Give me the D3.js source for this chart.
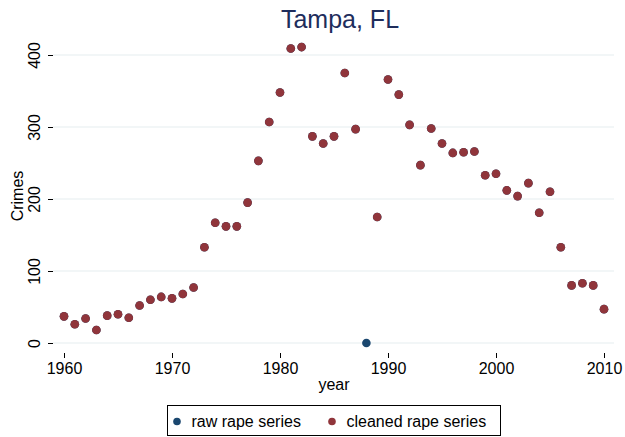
<!DOCTYPE html>
<html>
<head>
<meta charset="utf-8">
<script src="https://cdn.jsdelivr.net/npm/d3@7"></script>
<style>
  html, body { margin: 0; padding: 0; background: #ffffff; }
  svg { display: block; font-family: "Liberation Sans", Arial, Helvetica, sans-serif; }
</style>
</head>
<body>
<svg id="chart" width="625" height="437"></svg>
<script>
// ---- data ----
const years = d3.range(1960, 2011);
const cleanedValues = [
  37, 26, 34, 18, 38, 40, 35, 52, 60, 64,
  62, 68, 77, 133, 167, 162, 162, 195, 253, 307,
  348, 409, 411, 287, 277, 287, 375, 297, null, 175,
  366, 345, 303, 247, 298, 277, 264, 265, 266, 233,
  235, 212, 204, 222, 181, 210, 133, 80, 83, 80,
  47
];
const rawValues = cleanedValues.map((v, i) => years[i] === 1988 ? 0 : v);
const xTicks = [1960, 1970, 1980, 1990, 2000, 2010];
const yTicks = [0, 100, 200, 300, 400];
const seriesNames = ["raw rape series", "cleaned rape series"];
const seriesColors = ["#1a476f", "#90353b"];

// ---- layout ----
const svg = d3.select("#chart");
const x = d3.scaleLinear().domain([1960, 2010]).range([64, 604]);
const y = d3.scaleLinear().domain([0, 400]).range([343, 55]);
const plotLeft = 53, plotRight = 614;

// gridlines
svg.append("g").selectAll("line").data(yTicks).join("line")
  .attr("x1", plotLeft).attr("x2", plotRight)
  .attr("y1", d => y(d)).attr("y2", d => y(d))
  .attr("stroke", "#e6eef0").attr("stroke-width", 1.2);

// y axis
const yAxis = svg.append("g").attr("transform", `translate(${plotLeft},0)`)
  .call(d3.axisLeft(y).tickValues(yTicks).tickSize(5).tickPadding(4));
yAxis.select(".domain").remove();
yAxis.selectAll(".tick line").attr("stroke", "#000");
yAxis.selectAll(".tick text")
  .attr("font-size", 16).attr("fill", "#000")
  .attr("x", null).attr("dy", null)
  .attr("text-anchor", "middle")
  .attr("transform", "translate(-13,0) rotate(-90)")
  .attr("y", 0);

// x axis
const xAxis = svg.append("g").attr("transform", `translate(0,353)`)
  .call(d3.axisBottom(x).tickValues(xTicks).tickFormat(d3.format("d")).tickSize(5).tickPadding(4));
xAxis.select(".domain").remove();
xAxis.selectAll(".tick line").attr("stroke", "#000");
xAxis.selectAll(".tick text").attr("font-size", 16).attr("fill", "#000")
  .attr("y", 21).attr("dy", null);

// axis titles
svg.append("text").attr("x", 334).attr("y", 390).attr("text-anchor", "middle")
  .attr("font-size", 16).attr("fill", "#000").text("year");
svg.append("text").attr("transform", "translate(23,196) rotate(-90)")
  .attr("text-anchor", "middle").attr("font-size", 16).attr("fill", "#000").text("Crimes");

// title
svg.append("text").attr("x", 340).attr("y", 28).attr("text-anchor", "middle")
  .attr("font-size", 25).attr("fill", "#1e2d5c").text("Tampa, FL");

// points
const rawPts = years.map((yr, i) => ({ yr, v: rawValues[i] })).filter(d => d.v != null);
const cleanPts = years.map((yr, i) => ({ yr, v: cleanedValues[i] })).filter(d => d.v != null);
svg.append("g").selectAll("circle").data(rawPts).join("circle")
  .attr("cx", d => x(d.yr)).attr("cy", d => y(d.v)).attr("r", 4.3)
  .attr("fill", seriesColors[0]);
svg.append("g").selectAll("circle").data(cleanPts).join("circle")
  .attr("cx", d => x(d.yr)).attr("cy", d => y(d.v)).attr("r", 4.3)
  .attr("fill", seriesColors[1]);

// legend
const lg = svg.append("g");
lg.append("rect").attr("x", 167.5).attr("y", 405.5).attr("width", 333).attr("height", 30)
  .attr("fill", "#fff").attr("stroke", "#000").attr("stroke-width", 1);
const legendItems = [
  { name: seriesNames[0], color: seriesColors[0], cx: 177, tx: 191.5 },
  { name: seriesNames[1], color: seriesColors[1], cx: 332, tx: 346.5 }
];
legendItems.forEach(it => {
  lg.append("circle").attr("cx", it.cx).attr("cy", 421.5).attr("r", 3.8).attr("fill", it.color);
  lg.append("text").attr("x", it.tx).attr("y", 427).attr("font-size", 16)
    .attr("fill", "#000").text(it.name);
});
</script>
</body>
</html>
